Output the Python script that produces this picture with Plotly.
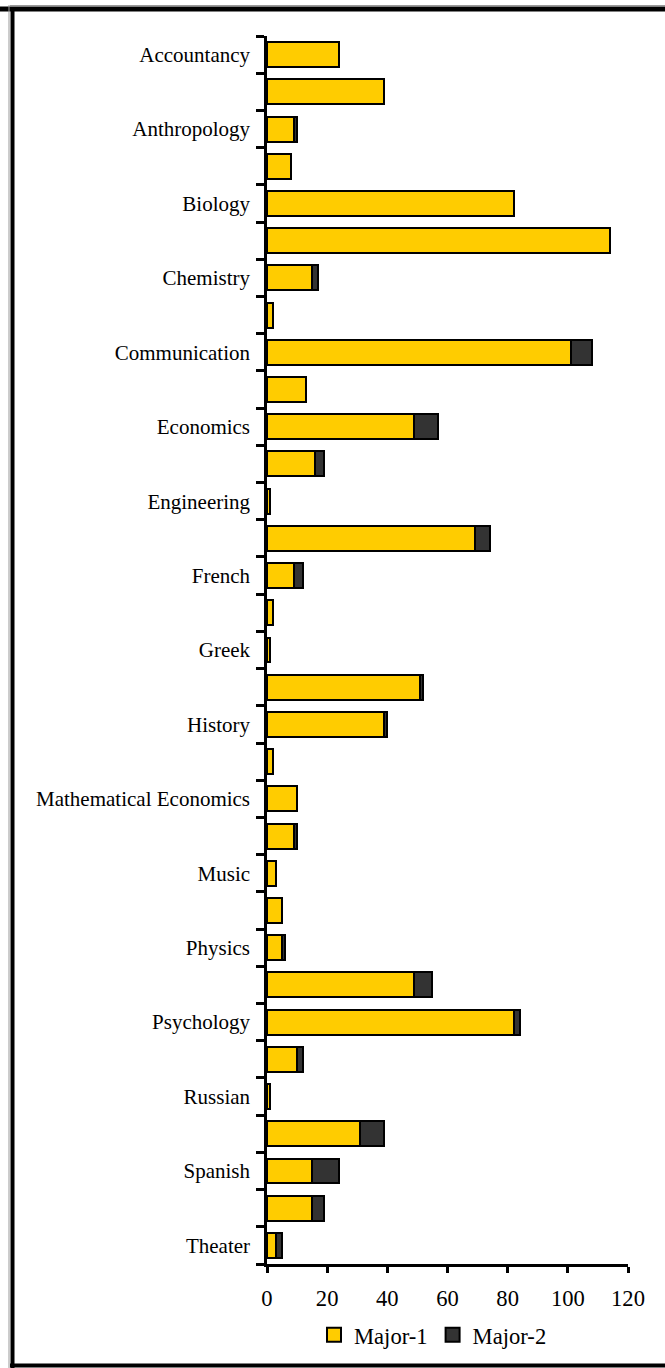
import plotly.graph_objects as go

# Categories (every other label is hidden on the reference axis; hidden names are placeholders)
categories = [
    "Accountancy", "American Studies", "Anthropology", "Art", "Biology", "Business",
    "Chemistry", "Classics", "Communication", "Computer Science", "Economics",
    "Education", "Engineering", "English", "French", "German", "Greek",
    "Health Science", "History", "Latin", "Mathematical Economics", "Mathematics",
    "Music", "Philosophy", "Physics", "Political Science", "Psychology", "Religion",
    "Russian", "Sociology", "Spanish", "Studio Art", "Theater",
]
tick_labels = [
    "Accountancy", "", "Anthropology", "", "Biology", "",
    "Chemistry", "", "Communication", "", "Economics",
    "", "Engineering", "", "French", "", "Greek",
    "", "History", "", "Mathematical Economics", "",
    "Music", "", "Physics", "", "Psychology", "",
    "Russian", "", "Spanish", "", "Theater",
]
major1 = [24, 39, 9, 8, 82, 114, 15, 2, 101, 13, 49, 16, 1, 69, 9, 2, 1,
          51, 39, 2, 10, 9, 3, 5, 5, 49, 82, 10, 1, 31, 15, 15, 3]
major2 = [0, 0, 1, 0, 0, 0, 2, 0, 7, 0, 8, 3, 0, 5, 3, 0, 0,
          1, 1, 0, 0, 1, 0, 0, 1, 6, 2, 2, 0, 8, 9, 4, 2]
series_names = ["Major-1", "Major-2"]
series_colors = ["#FFCC00", "#333333"]
x_ticks = [0, 20, 40, 60, 80, 100, 120]

W, H = 665, 1368
ML, MR, MT, MB = 267, 37, 36, 104
FAMILY = "Liberation Serif, Times New Roman, serif"
YFONT = dict(family=FAMILY, size=21, color="black")
XFONT = dict(family=FAMILY, size=22.6, color="black")

fig = go.Figure()
for name, vals, col in zip(series_names, [major1, major2], series_colors):
    fig.add_trace(go.Bar(
        y=categories, x=vals, orientation="h", name=name, showlegend=False,
        marker=dict(color=col, line=dict(color="black", width=2)),
    ))
# legend entries with larger square swatches
for name, col in zip(series_names, series_colors):
    fig.add_trace(go.Scatter(
        x=[None], y=[None], mode="markers", name=name, showlegend=True,
        marker=dict(symbol="square", size=14, color=col, line=dict(color="black", width=2)),
    ))

pw = W - ML - MR
ph = H - MT - MB


def px(x):
    return (x - ML) / pw


def py(y):
    return (H - MB - y) / ph


shapes = [
    dict(type="line", xref="paper", yref="paper", x0=px(0), x1=px(680), y0=py(9), y1=py(9),
         line=dict(color="black", width=5)),
    dict(type="line", xref="paper", yref="paper", x0=px(10), x1=px(680), y0=py(5.5), y1=py(5.5),
         line=dict(color="#999999", width=1)),
    dict(type="line", xref="paper", yref="paper", x0=px(12.5), x1=px(12.5), y0=py(7), y1=py(1368),
         line=dict(color="black", width=4)),
    dict(type="line", xref="paper", yref="paper", x0=px(9), x1=px(9), y0=py(5), y1=py(1368),
         line=dict(color="#999999", width=1)),
    dict(type="line", xref="paper", yref="paper", x0=px(10), x1=px(680), y0=py(1365.5), y1=py(1365.5),
         line=dict(color="black", width=4)),
]

fig.update_layout(
    width=W, height=H,
    margin=dict(l=ML, r=MR, t=MT, b=MB, pad=0),
    barmode="stack", bargap=0.33,
    paper_bgcolor="white", plot_bgcolor="white",
    font=XFONT,
    showlegend=True,
    legend=dict(orientation="h", x=px(433), y=py(1335), xanchor="center", yanchor="middle",
                font=XFONT, itemwidth=30, tracegroupgap=0, traceorder="normal",
                bgcolor="rgba(0,0,0,0)"),
    shapes=shapes,
    xaxis=dict(range=[0, 120], tickvals=x_ticks, ticktext=[str(v) for v in x_ticks],
               showgrid=False, zeroline=False, showline=True, linecolor="black", linewidth=2.5,
               ticks="outside", ticklen=6, tickwidth=2.5, tickcolor="black",
               tickfont=XFONT, ticklabelstandoff=6),
    yaxis=dict(type="category", autorange="reversed", tickmode="array",
               tickvals=categories, ticktext=tick_labels, tickson="boundaries",
               showgrid=False, zeroline=False, showline=True, linecolor="black", linewidth=2.5,
               ticks="outside", ticklen=8, tickwidth=2.5, tickcolor="black",
               tickfont=YFONT, ticklabelstandoff=10),
)

fig.write_html("out.html", config={"displayModeBar": False},
               post_script="document.body.style.margin='0px';")
